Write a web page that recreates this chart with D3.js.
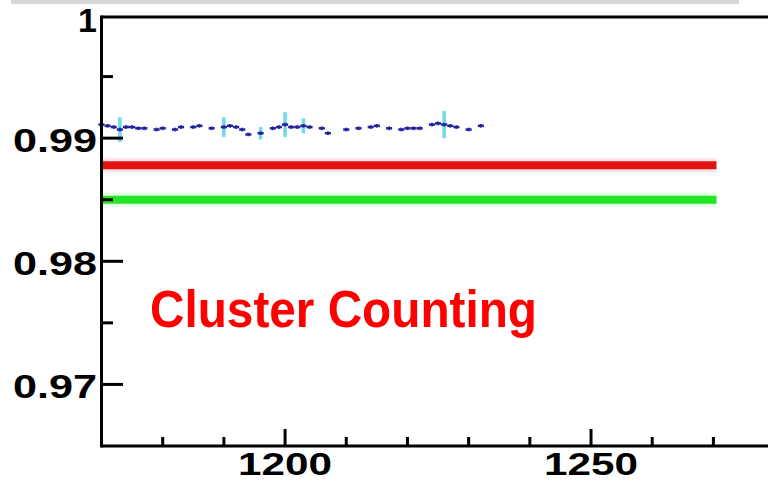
<!DOCTYPE html>
<html>
<head>
<meta charset="utf-8">
<script src="https://cdn.jsdelivr.net/npm/d3@7"></script>
<style>
  html, body { margin: 0; padding: 0; background: #ffffff; }
  svg { display: block; }
</style>
</head>
<body>
<svg id="chart" width="768" height="482"></svg>
<script>
// ---- data ----
const pointX   = [1170,1171,1172,1173,1174,1175,1176,1177,1179,1180,1182,1183,1185,1186,1188,1190,1191,1192,1193,1194,1196,1198,1199,1200,1201,1202,1203,1204,1206,1207,1210,1212,1214,1215,1217,1219,1220,1221,1222,1224,1225,1226,1227,1228,1230,1232];
const pointY   = [0.9911,0.9910,0.9909,0.9907,0.9909,0.9909,0.9908,0.9908,0.9907,0.9908,0.9907,0.9909,0.9909,0.9910,0.9908,0.9909,0.9910,0.9909,0.9907,0.9903,0.9904,0.9908,0.9909,0.9911,0.9909,0.9909,0.9910,0.9909,0.9908,0.9904,0.9907,0.9908,0.9909,0.9910,0.9908,0.9907,0.9908,0.9908,0.9908,0.9911,0.9912,0.9911,0.9910,0.9909,0.9907,0.9910];
const pointErr = [0.00015,0.00015,0.00015,0.0010,0.00015,0.00015,0.00015,0.00015,0.00015,0.00015,0.00015,0.00015,0.00015,0.00015,0.00015,0.0008,0.00015,0.00015,0.00015,0.00015,0.0005,0.00015,0.00015,0.0010,0.00015,0.00015,0.0006,0.00015,0.00015,0.00015,0.00015,0.00015,0.00015,0.00015,0.00015,0.00015,0.00015,0.00015,0.00015,0.00015,0.00015,0.0011,0.00015,0.00015,0.00015,0.00015];
const levelNames  = ["red", "green"];
const levelValues = [0.9878, 0.9850];
const levelStart  = [1170, 1170];
const levelEnd    = [1270.5, 1270.5];
const xMajorTicks = [1200, 1250];
const xMinorTicks = [1180, 1190, 1210, 1220, 1230, 1240, 1260, 1270];
const yMajorTicks = [1, 0.99, 0.98, 0.97];
const yMinorTicks = [0.995, 0.985, 0.975];
const yTickLabels = ["1", "0.99", "0.98", "0.97"];
const xTickLabels = ["1200", "1250"];
const titleText = "Cluster Counting";

// ---- layout ----
const svg = d3.select("#chart");
const x = d3.scaleLinear().domain([1170, 1280]).range([101.5, 774.6]);
const y = d3.scaleLinear().domain([0.965, 1.0]).range([446, 15]);
const levelColors = { red: "#e31212", green: "#22e626" };
const font = "'Liberation Sans', Arial, Helvetica, sans-serif";

// gray band at top
svg.append("rect").attr("x", 11).attr("y", 0).attr("width", 728).attr("height", 4).attr("fill", "#d6d6d6");

// level lines (with faint halo)
levelNames.forEach((n, i) => {
  svg.append("line")
    .attr("x1", x(levelStart[i])).attr("x2", x(levelEnd[i]))
    .attr("y1", y(levelValues[i])).attr("y2", y(levelValues[i]))
    .attr("stroke", levelColors[n]).attr("stroke-opacity", 0.12).attr("stroke-width", 14);
  svg.append("line")
    .attr("x1", x(levelStart[i])).attr("x2", x(levelEnd[i]))
    .attr("y1", y(levelValues[i])).attr("y2", y(levelValues[i]))
    .attr("stroke", levelColors[n]).attr("stroke-width", 8);
});

// data points
const pts = pointX.map((px, i) => ({ x: px, y: pointY[i], e: pointErr[i] }));
const big = pts.filter(d => d.e > 0.0003);
svg.selectAll(".ebig").data(big).enter().append("line")
  .attr("x1", d => x(d.x)).attr("x2", d => x(d.x))
  .attr("y1", d => y(d.y - d.e)).attr("y2", d => y(d.y + d.e))
  .attr("stroke", "#55d4e6").attr("stroke-width", 3.5).attr("stroke-opacity", 0.85);
svg.selectAll(".esmall").data(pts).enter().append("line")
  .attr("x1", d => x(d.x)).attr("x2", d => x(d.x))
  .attr("y1", d => y(d.y - Math.min(d.e, 0.00015))).attr("y2", d => y(d.y + Math.min(d.e, 0.00015)))
  .attr("stroke", "#2a2aa8").attr("stroke-width", 2);
svg.selectAll(".hbar").data(pts).enter().append("line")
  .attr("x1", d => x(d.x - 0.5)).attr("x2", d => x(d.x + 0.5))
  .attr("y1", d => y(d.y)).attr("y2", d => y(d.y))
  .attr("stroke", "#24249a").attr("stroke-width", 2.5);

// frame
svg.append("line").attr("x1", 101.5).attr("x2", 768).attr("y1", 17).attr("y2", 17).attr("stroke", "#000").attr("stroke-width", 3);
svg.append("line").attr("x1", 101.5).attr("x2", 768).attr("y1", 446).attr("y2", 446).attr("stroke", "#000").attr("stroke-width", 3);
svg.append("line").attr("x1", 101.5).attr("x2", 101.5).attr("y1", 15.5).attr("y2", 447.5).attr("stroke", "#000").attr("stroke-width", 3);

// y ticks
yMajorTicks.forEach((t, i) => {
  if (t < 1) {
    svg.append("line").attr("x1", 101.5).attr("x2", 123).attr("y1", y(t)).attr("y2", y(t)).attr("stroke", "#000").attr("stroke-width", 3);
  }
  const lab = yTickLabels[i];
  const txt = svg.append("text")
    .attr("x", 97).attr("y", t === 1 ? 32 : y(t) + 14)
    .attr("text-anchor", "end")
    .attr("font-family", font).attr("font-weight", "bold").attr("font-size", 34)
    .attr("fill", "#000").text(lab);
  if (lab.length > 1) txt.attr("textLength", 84).attr("lengthAdjust", "spacingAndGlyphs");
});
yMinorTicks.forEach(t => {
  svg.append("line").attr("x1", 101.5).attr("x2", 113).attr("y1", y(t)).attr("y2", y(t)).attr("stroke", "#000").attr("stroke-width", 3);
});

// x ticks
xMajorTicks.forEach((t, i) => {
  svg.append("line").attr("x1", x(t)).attr("x2", x(t)).attr("y1", 446).attr("y2", 429).attr("stroke", "#000").attr("stroke-width", 3);
  svg.append("text")
    .attr("x", x(t)).attr("y", 475)
    .attr("text-anchor", "middle")
    .attr("font-family", font).attr("font-weight", "bold").attr("font-size", 32)
    .attr("textLength", 94).attr("lengthAdjust", "spacingAndGlyphs")
    .attr("fill", "#000").text(xTickLabels[i]);
});
xMinorTicks.forEach(t => {
  svg.append("line").attr("x1", x(t)).attr("x2", x(t)).attr("y1", 446).attr("y2", 437).attr("stroke", "#000").attr("stroke-width", 3);
});

// title text
svg.append("text")
  .attr("x", 150).attr("y", 327)
  .attr("font-family", font).attr("font-weight", "bold").attr("font-size", 52)
  .attr("textLength", 387).attr("lengthAdjust", "spacingAndGlyphs")
  .attr("fill", "#ff0000").text(titleText);
</script>
</body>
</html>
